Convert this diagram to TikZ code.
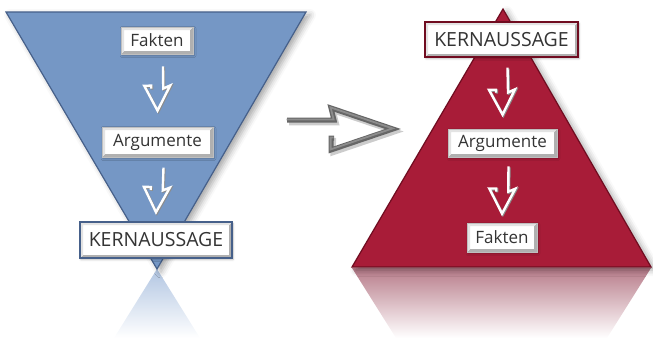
\documentclass[tikz,border=0pt]{standalone}
\usepackage{fontspec}
\setmainfont{Open Sans}
\usetikzlibrary{calc,shadows.blur}

\definecolor{funnelblue}{RGB}{117,151,197}
\definecolor{funneledge}{RGB}{70,96,138}
\definecolor{pyrred}{RGB}{168,28,56}
\definecolor{pyredge}{RGB}{112,12,32}
\definecolor{labeltext}{RGB}{52,52,52}
\definecolor{reflblue}{RGB}{178,198,226}
\definecolor{reflred}{RGB}{184,124,138}

\tikzset{
  % broken "lightning" arrow: shaft offset to one side, open V head
  bolt w/.store in=\boltw, bolt h/.store in=\bolth, bolt H/.store in=\boltH,
  bolt w=6pt, bolt h=13pt, bolt H=25pt,
  bolt/.style={line join=miter, to path={
    let \p1=(\tikztostart), \p2=(\tikztotarget),
        \n1={atan2(\y2-\y1,\x2-\x1)},
        \n2={veclen(\x2-\x1,\y2-\y1)-\boltH} in
    ($(\p1)+(\n1+90:\boltw)$)
    -- ($(\p1)+(\n1:\n2+3pt)+(\n1+90:\boltw)$)
    -- ($(\p1)+(\n1:\n2+0pt)+(\n1+90:\bolth)$)
    -- (\p2)
    -- ($(\p1)+(\n1:\n2+0pt)+(\n1-90:\bolth)$)
    -- ($(\p1)+(\n1:\n2+0pt)+(\n1-90:\boltw)$)
    -- ($(\p1)+(\n1:\n2+3pt)+(\n1-90:\boltw)$)
  }},
  downbolt/.style={bolt, bolt w=6pt, bolt h=13pt, bolt H=25pt,
    draw=white, line width=2.4pt,
    preaction={draw=black!45, line width=2.4pt,
      transform canvas={shift={(0.9pt,-0.9pt)}}}},
  sidebolt/.style={bolt, bolt w=9pt, bolt h=21pt, bolt H=62pt,
    draw=black!60, line width=5pt,
    preaction={draw=black!20, line width=5.5pt,
      transform canvas={shift={(2pt,-2.5pt)}}},
    postaction={draw=black!45, line width=1.8pt,
      transform canvas={shift={(-0.4pt,0.6pt)}}}},
  % bevelled label plate
  lbl/.style={rectangle, draw=gray!50, line width=0.8pt, fill=white,
    text=labeltext, inner sep=0pt, font=\fontsize{17}{17}\selectfont,
    blur shadow={shadow xshift=1pt, shadow yshift=-1.5pt,
      shadow blur radius=2pt, shadow opacity=30},
    path picture={
      \fill[gray!62] (path picture bounding box.south west)
        -- (path picture bounding box.south east)
        -- (path picture bounding box.north east)
        -- ([xshift=-3pt,yshift=-3pt]path picture bounding box.north east)
        -- ([xshift=-3pt,yshift=3pt]path picture bounding box.south east)
        -- ([xshift=3pt,yshift=3pt]path picture bounding box.south west) -- cycle;
      \fill[gray!22] (path picture bounding box.south west)
        -- (path picture bounding box.north west)
        -- (path picture bounding box.north east)
        -- ([xshift=-3pt,yshift=-3pt]path picture bounding box.north east)
        -- ([xshift=3pt,yshift=-3pt]path picture bounding box.north west)
        -- ([xshift=3pt,yshift=3pt]path picture bounding box.south west) -- cycle;
    }},
  keylbl/.style={lbl, line width=1.6pt, font=\fontsize{19.5}{19.5}\selectfont},
  tri/.style={line width=1.2pt, line join=miter,
    blur shadow={shadow xshift=4pt, shadow yshift=-3pt,
      shadow blur radius=6pt, shadow opacity=35}}
}

\begin{document}
\begin{tikzpicture}[x=1pt,y=-1pt]
\useasboundingbox (0,0) rectangle (653,340);

% reflections under the two shapes
\shade[top color=reflblue, bottom color=white] (157,269) -- (200,338) -- (114,338) -- cycle;
\shade[top color=reflred, bottom color=white] (352,268) -- (651,268) -- (607,338) -- (396,338) -- cycle;

% inverted triangle (funnel) and pyramid
\path[tri, fill=funnelblue, draw=funneledge] (6,12) -- (306,12) -- (157,269) -- cycle;
\path[tri, fill=pyrred, draw=pyredge] (503,9) -- (651,267) -- (352,267) -- cycle;

% left: from facts to the key message
\node[lbl, minimum width=72pt, minimum height=27pt] (bf) at (157,40.5) {Fakten};
\node[lbl, minimum width=111pt, minimum height=30pt] (ba) at (157.5,142) {Argumente};
\node[keylbl, draw=funneledge, minimum width=152pt, minimum height=36pt] (bk) at (156,240) {KERNAUSSAGE};

% right: from the key message down to the facts
\node[keylbl, draw=pyredge, minimum width=153pt, minimum height=35pt] (rk) at (501.5,39.5) {KERNAUSSAGE};
\node[lbl, minimum width=109pt, minimum height=28pt] (ra) at (502.5,143) {Argumente};
\node[lbl, minimum width=70pt, minimum height=29pt] (rf) at (502,237.5) {Fakten};

% downward arrows between the plates
\draw[downbolt] ([yshift=-12pt]bf.south) to ([yshift=16pt]ba.north);
\draw[downbolt] ([yshift=-10pt]ba.south) to ([yshift=9pt]bk.north);
\draw[downbolt] ([yshift=-10pt]rk.south) to ([yshift=14pt]ra.north);
\draw[downbolt] ([yshift=-9pt]ra.south) to ([yshift=9pt]rf.north);

% transition arrow between the two models
\coordinate (ms) at (287,129);
\coordinate (mt) at (393,129);
\draw[sidebolt] (ms) to (mt);
\end{tikzpicture}
\end{document}
